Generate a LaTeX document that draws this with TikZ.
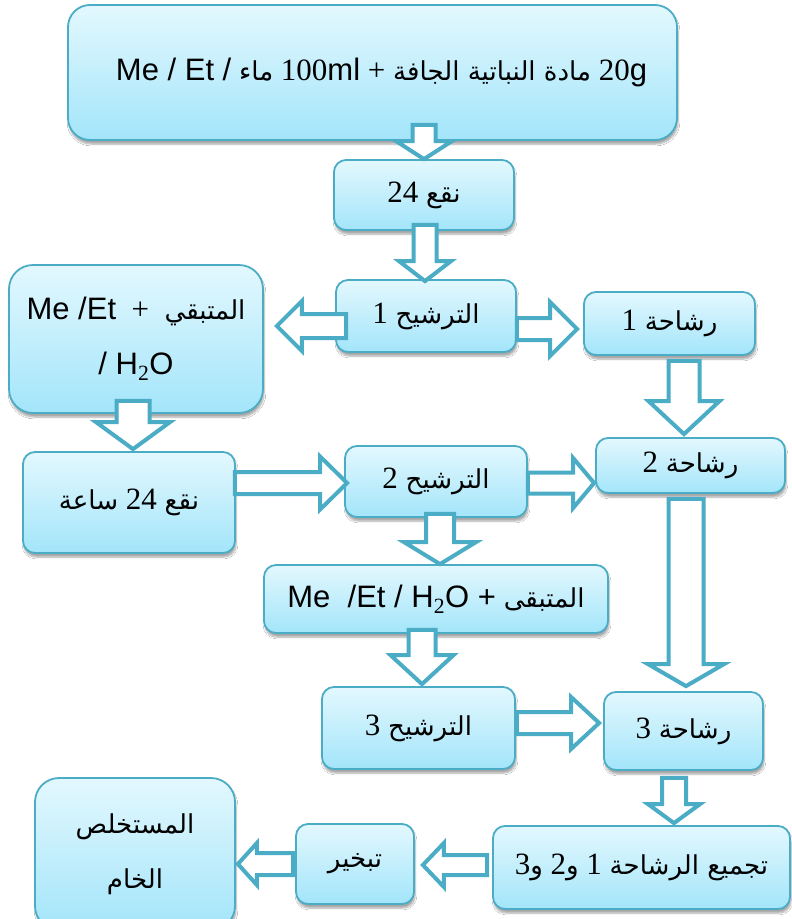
\documentclass[tikz,border=0pt]{standalone}
\usepackage{fontspec}
\setmainfont{Liberation Serif}
\newfontfamily\ls{Liberation Sans}
\newfontfamily\arf[Script=Arabic,Scale=0.84]{DejaVu Sans}
\TeXXeTstate=1
\newcommand\AR[1]{{\arf\beginR #1\endR}}
\usetikzlibrary{calc,shadows.blur}
\definecolor{tealb}{HTML}{4BACC6}
\definecolor{boxtop}{HTML}{E3F8FE}
\definecolor{boxbot}{HTML}{A3E5FA}
\tikzset{
  box/.style={draw=tealb, line width=1.8pt, rounded corners=12pt,
    top color=boxtop, bottom color=boxbot,
    blur shadow={shadow xshift=1pt, shadow yshift=-4pt, shadow blur steps=6, shadow opacity=35},
    inner sep=0pt, align=center, font=\fontsize{31}{55}\selectfont},
  sz/.style 2 args={minimum width=#1pt, minimum height=#2pt},
  blk/.style={draw=tealb, line width=4pt, fill=white, line join=miter},
}
% block arrow: #1 start, #2 tip, #3 shaft width, #4 head width, #5 head length
\newcommand\blockarrow[5]{%
  \path[blk] let \p1=(#1), \p2=(#2), \n1={atan2(\y2-\y1,\x2-\x1)}, \n2={veclen(\x2-\x1,\y2-\y1)} in
    [shift={(\p1)}, rotate=\n1]
    (0,{-#3/2}) -- ({\n2-#5},{-#3/2}) -- ({\n2-#5},{-#4/2}) -- ({\n2},0)
    -- ({\n2-#5},{#4/2}) -- ({\n2-#5},{#3/2}) -- (0,{#3/2}) -- cycle;}
\begin{document}
\begin{tikzpicture}[x=1pt,y=-1pt]
\fill[white] (0,0) rectangle (792,919);
\clip (0,0) rectangle (792,919);
% boxes
\node[box, sz={609}{135}, rounded corners=22pt] (top) at (372.5,72.5)
  {\hspace*{18pt}{\ls Me / Et /} \AR{ماء} 100{\ls ml} + \AR{مادة النباتية الجافة} 20{\ls g}};
\node[box, sz={180}{70}] (naqa) at (424,195) {24 \AR{نقع}};
\node[box, sz={180}{72}] (tar1) at (426,316) {1 \AR{الترشيح}};
\node[box, sz={171}{63}] (rash1) at (669.5,323.5) {1 \AR{رشاحة}};
\node[box, sz={254}{148}, rounded corners=24pt] (left) at (136,339)
  {{\ls Me /Et} \ + \ \AR{المتبقي}\\{\ls / H}\textsubscript{2}{\ls O}};
\node[box, sz={212}{101}] (naqa24) at (129,502.5) {\AR{ساعة} 24 \AR{نقع}};
\node[box, sz={182}{71}] (tar2) at (436,481.5) {2 \AR{الترشيح}};
\node[box, sz={189}{55}] (rash2) at (690.5,465.5) {2 \AR{رشاحة}};
\node[box, sz={344}{68}] (mut) at (436,599)
  {{\ls Me \ /Et / H}\textsubscript{2}{\ls O +} \AR{المتبقى}};
\node[box, sz={193}{82}] (tar3) at (418.5,728) {3 \AR{الترشيح}};
\node[box, sz={159}{78}] (rash3) at (683.5,731) {3 \AR{رشاحة}};
\node[box, sz={297}{83}] (taj) at (641.5,867.5) {3\AR{و} 2\AR{و} 1 \AR{تجميع الرشاحة}};
\node[box, sz={118}{80}] (tab) at (355,864) {\AR{تبخير}};
\node[box, sz={200}{152}, rounded corners=24pt] (mus) at (135,854) {\AR{المستخلص}\\\AR{الخام}};
% arrows
\blockarrow{$(top.south)+(51.5,-16)$}{naqa.north}{23}{56}{18}
\blockarrow{$(naqa.south)+(1,-6)$}{$(tar1.north)+(-1,2)$}{23}{52}{20}
\blockarrow{$(tar1.west)+(11,10)$}{$(left.east)+(13,-13)$}{24}{50}{25}
\blockarrow{$(tar1.east)+(0,13)$}{$(rash1.west)+(-6,5.5)$}{22}{54}{27}
\blockarrow{$(left.south)+(-3,-13)$}{$(naqa24.north)+(4,-2)$}{33}{74}{27}
\blockarrow{$(naqa24.east)+(-1,-19.5)$}{$(tar2.west)+(3,1.5)$}{22}{53}{27}
\blockarrow{$(tar2.east)+(0,1.5)$}{$(rash2.west)+(-1,17.5)$}{21}{50}{21}
\blockarrow{$(rash1.south)+(14.5,5)$}{$(rash2.north)+(-6.5,-3)$}{31}{71}{33}
\blockarrow{$(tar2.south)+(4,-4)$}{$(mut.north)+(4,0)$}{28}{72}{22}
\blockarrow{$(mut.south)+(-14,-4)$}{$(tar3.north)+(3.5,-2)$}{27}{63}{29}
\blockarrow{$(rash2.south)+(-4.5,5)$}{$(rash3.north)+(2.5,-5)$}{35}{76}{22}
\blockarrow{$(tar3.east)+(1,-5)$}{$(rash3.west)+(-4,-8)$}{22}{52}{28}
\blockarrow{$(rash3.south)+(-9.5,7)$}{$(taj.north)+(32.5,-2)$}{24}{52}{19}
\blockarrow{$(taj.west)+(-5,-2.5)$}{$(tab.east)+(8,1)$}{20}{44}{21}
\blockarrow{$(tab.west)+(-2,0)$}{$(mus.east)+(2,10)$}{22}{42}{19}
\end{tikzpicture}
\end{document}
